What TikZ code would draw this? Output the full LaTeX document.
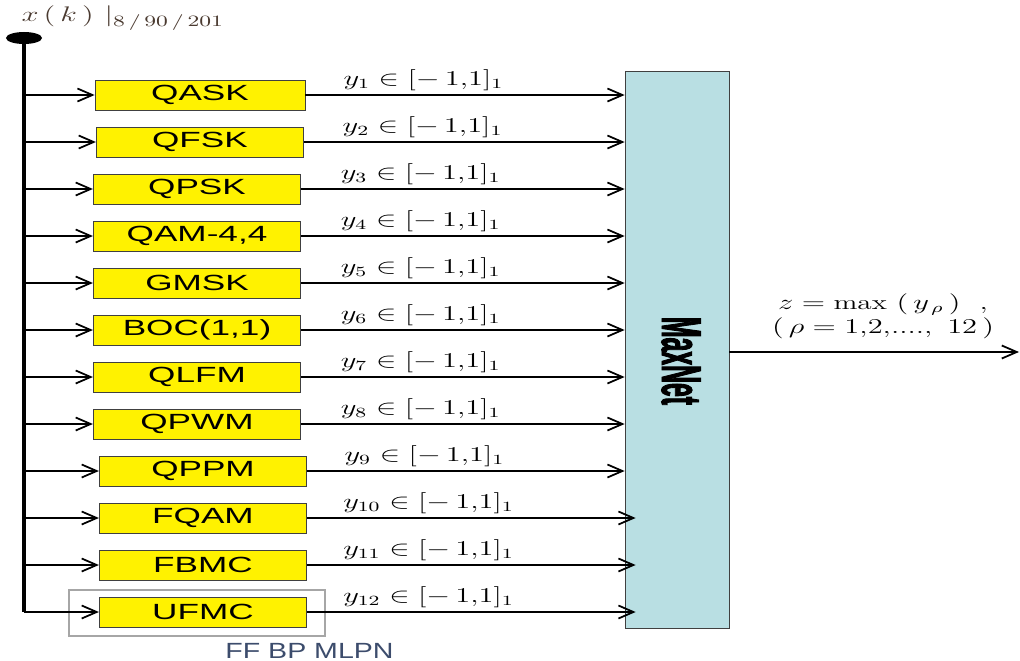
\documentclass[tikz,border=0pt]{standalone}
\usepackage{fontspec}
\usepackage{graphicx}
\usetikzlibrary{positioning}
\usetikzlibrary{shapes.geometric, arrows.meta}
\newfontfamily\boxfont[FakeStretch=1.6]{Liberation Sans}
\newfontfamily\mlpfont[FakeStretch=1.3]{Liberation Sans}
\newfontfamily\netfont[FakeStretch=0.44, FakeBold=1.5]{Liberation Sans}
\definecolor{boxgray}{HTML}{404040}
\definecolor{netblue}{HTML}{B9DFE3}
\definecolor{xlbl}{HTML}{4A3A30}
\definecolor{mlpn}{HTML}{3C4C6C}
\newcommand{\outlbl}[1]{\scalebox{1.45}[1]{$y_{#1}\in[-\,1{,}1]_{1}$}}
\tikzset{
    modBox/.style={rectangle, minimum width=4.15cm, minimum height=0.6cm, inner sep=0pt, draw=boxgray, fill=yellow, text centered, font=\boxfont\fontsize{12.5}{12.5}\selectfont},
    netBox/.style={rectangle, minimum width=2.08cm, minimum height=11.14cm, inner sep=0pt, draw=boxgray, fill=netblue},
    arrow/.style={line width=1pt, ->, >={Straight Barb[length=3mm, width=2.6mm]}},
    bus/.style={line width=1.8pt},
    yLabel/.style={above, pos=0.37, inner sep=2pt, font=\fontsize{11.5}{11.5}\selectfont}
}

\begin{document}
\begin{tikzpicture}[node distance=0.94cm]
  \useasboundingbox (0,0) rectangle (20.4,-13.22);

  \node (src) [ellipse, fill=black, minimum width=0.72cm, minimum height=0.24cm, inner sep=0pt] at (0.48,-0.76) {};
  \node (xk) [text=xlbl, font=\fontsize{13}{13}\selectfont] at (2.46,-0.36) {\scalebox{1.45}[1]{$x\,(\,k\,)\ |_{8\,/\,90\,/\,201}$}};

  \node (qask) [modBox, minimum width=4.2cm] at (4.0,-1.9) {QASK};
  \node (qfsk) [modBox, below of=qask] {QFSK};
  \node (qpsk) [modBox, below of=qfsk, xshift=-0.06cm] {QPSK};
  \node (qam)  [modBox, below of=qpsk] {QAM-4,4};
  \node (gmsk) [modBox, below of=qam] {GMSK};
  \node (boc)  [modBox, below of=gmsk] {BOC(1,1)};
  \node (qlfm) [modBox, below of=boc] {QLFM};
  \node (qpwm) [modBox, below of=qlfm] {QPWM};
  \node (qppm) [modBox, below of=qpwm, xshift=0.12cm] {QPPM};
  \node (fqam) [modBox, below of=qppm] {FQAM};
  \node (fbmc) [modBox, below of=fqam] {FBMC};
  \node (ufmc) [modBox, below of=fbmc] {UFMC};

  \node (mlp) [draw=gray!70, line width=0.6pt, minimum width=5.12cm, minimum height=0.92cm] at (3.94,-12.26) {};
  \node (mlpname) [below=0.14cm of mlp, xshift=2.25cm, text=mlpn, font=\mlpfont\fontsize{12.5}{12.5}\selectfont, inner sep=0pt] {FF BP MLPN};

  \node (maxnet) [netBox] at (13.54,-6.99) {};
  \node (netname) [rotate=-90, font=\netfont\bfseries\fontsize{32}{32}\selectfont] at (13.62,-7.22) {MaxNet};

  \coordinate (out) at (20.38,-7.04);
  \node (zmax) [align=center, font=\fontsize{11.5}{13.5}\selectfont] at (17.66,-6.32) {\scalebox{1.45}[1]{$z = \max\ (\,y_{\,\rho}\,)\ \ ,$}\\ \scalebox{1.45}[1]{$(\,\rho = 1{,}2{,}....,\ 12\,)$}};

  \draw[bus] (src.center) -- (src.center |- ufmc.west);

  \draw[arrow] (src.center |- qask.west) -- (qask.west);
  \draw[arrow] (src.center |- qfsk.west) -- (qfsk.west);
  \draw[arrow] (src.center |- qpsk.west) -- (qpsk.west);
  \draw[arrow] (src.center |- qam.west) -- (qam.west);
  \draw[arrow] (src.center |- gmsk.west) -- (gmsk.west);
  \draw[arrow] (src.center |- boc.west) -- (boc.west);
  \draw[arrow] (src.center |- qlfm.west) -- (qlfm.west);
  \draw[arrow] (src.center |- qpwm.west) -- (qpwm.west);
  \draw[arrow] (src.center |- qppm.west) -- (qppm.west);
  \draw[arrow] (src.center |- fqam.west) -- (fqam.west);
  \draw[arrow] (src.center |- fbmc.west) -- (fbmc.west);
  \draw[arrow] (src.center |- ufmc.west) -- (ufmc.west);

  \draw[arrow] (qask.east) -- (qask.east -| maxnet.west) node[yLabel] {\outlbl{1}};
  \draw[arrow] (qfsk.east) -- (qfsk.east -| maxnet.west) node[yLabel] {\outlbl{2}};
  \draw[arrow] (qpsk.east) -- (qpsk.east -| maxnet.west) node[yLabel] {\outlbl{3}};
  \draw[arrow] (qam.east) -- (qam.east -| maxnet.west) node[yLabel] {\outlbl{4}};
  \draw[arrow] (gmsk.east) -- (gmsk.east -| maxnet.west) node[yLabel] {\outlbl{5}};
  \draw[arrow] (boc.east) -- (boc.east -| maxnet.west) node[yLabel] {\outlbl{6}};
  \draw[arrow] (qlfm.east) -- (qlfm.east -| maxnet.west) node[yLabel] {\outlbl{7}};
  \draw[arrow] (qpwm.east) -- (qpwm.east -| maxnet.west) node[yLabel] {\outlbl{8}};
  \draw[arrow] (qppm.east) -- (qppm.east -| maxnet.west) node[yLabel] {\outlbl{9}};
  \draw[arrow] (fqam.east) -- ([xshift=0.22cm]fqam.east -| maxnet.west) node[yLabel] {\outlbl{10}};
  \draw[arrow] (fbmc.east) -- ([xshift=0.22cm]fbmc.east -| maxnet.west) node[yLabel] {\outlbl{11}};
  \draw[arrow] (ufmc.east) -- ([xshift=0.22cm]ufmc.east -| maxnet.west) node[yLabel] {\outlbl{12}};

  \draw[arrow] (maxnet.east |- out) -- (out);
\end{tikzpicture}
\end{document}
